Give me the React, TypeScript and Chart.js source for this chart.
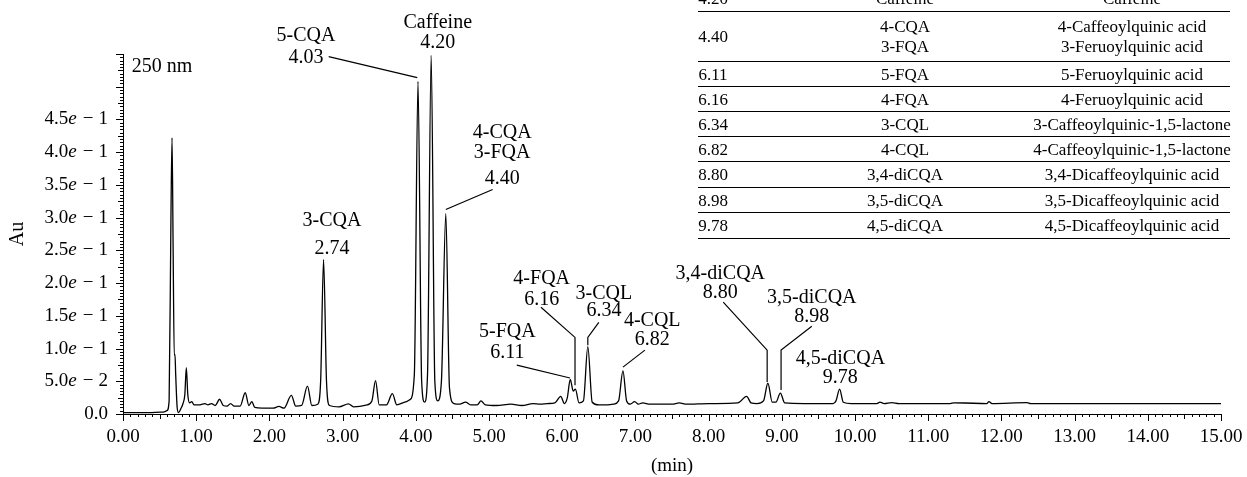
import React, { useEffect, useRef } from "react";
import { Chart, registerables } from "chart.js";

Chart.register(...registerables);

const FONT = '"Liberation Serif", "Times New Roman", serif';

// Chromatogram trace (retention time in min, absorbance in AU at 250 nm)
const times = [
  0.0, 0.3, 0.55, 0.6, 0.63, 0.655, 0.67, 0.685, 0.7, 0.71, 0.72, 0.74, 0.76, 0.79, 0.82, 0.845, 0.865, 0.885,
  0.91, 0.94, 0.97, 1.05, 1.12, 1.16, 1.21, 1.26, 1.32, 1.37, 1.42, 1.47, 1.52, 1.6, 1.67, 1.72, 1.76, 1.8,
  1.9, 2.05, 2.13, 2.2, 2.3, 2.36, 2.44, 2.52, 2.58, 2.66, 2.7, 2.74, 2.78, 2.82, 2.95, 3.08, 3.15, 3.32,
  3.4, 3.45, 3.5, 3.6, 3.68, 3.74, 3.85, 3.92, 3.98, 4.03, 4.08, 4.12, 4.16, 4.21, 4.26, 4.3, 4.35, 4.41,
  4.46, 4.52, 4.6, 4.68, 4.75, 4.84, 4.89, 4.95, 5.1, 5.3, 5.45, 5.6, 5.7, 5.8, 5.9, 5.98, 6.03, 6.07,
  6.11, 6.15, 6.18, 6.23, 6.29, 6.35, 6.41, 6.5, 6.62, 6.7, 6.77, 6.83, 6.88, 6.93, 6.99, 7.04, 7.1, 7.2,
  7.5, 7.6, 7.7, 8.0, 8.1, 8.4, 8.52, 8.58, 8.66, 8.75, 8.81, 8.87, 8.92, 8.98, 9.04, 9.3, 9.7, 9.74,
  9.79, 9.84, 9.95, 10.3, 10.34, 10.4, 10.5, 10.6, 11.3, 11.35, 11.5, 11.8, 11.83, 11.87, 12.35, 12.4, 15.0,
];
const absorbance = [
  0.002, 0.002, 0.003, 0.005, 0.02, 0.3, 0.422, 0.25, 0.09, 0.091, 0.06, 0.01, 0.002, 0.008, 0.016, 0.03, 0.071, 0.03,
  0.017, 0.019, 0.014, 0.014, 0.016, 0.014, 0.016, 0.013, 0.0225, 0.013, 0.012, 0.016, 0.012, 0.012, 0.0325, 0.013, 0.019, 0.01,
  0.009, 0.009, 0.0115, 0.009, 0.0285, 0.012, 0.013, 0.0425, 0.013, 0.015, 0.05, 0.236, 0.05, 0.013, 0.011, 0.0155, 0.011, 0.0135,
  0.02, 0.051, 0.014, 0.014, 0.031, 0.014, 0.018, 0.022, 0.06, 0.508, 0.05, 0.018, 0.06, 0.548, 0.05, 0.02, 0.05, 0.306,
  0.04, 0.016, 0.015, 0.018, 0.014, 0.014, 0.02, 0.014, 0.013, 0.015, 0.013, 0.016, 0.015, 0.016, 0.017, 0.027, 0.016, 0.025,
  0.053, 0.035, 0.038, 0.017, 0.02, 0.103, 0.018, 0.014, 0.014, 0.015, 0.02, 0.066, 0.02, 0.015, 0.019, 0.015, 0.017, 0.015,
  0.015, 0.017, 0.015, 0.016, 0.016, 0.017, 0.027, 0.017, 0.016, 0.02, 0.047, 0.018, 0.018, 0.032, 0.017, 0.016, 0.016, 0.02,
  0.038, 0.018, 0.016, 0.016, 0.018, 0.016, 0.0175, 0.016, 0.016, 0.017, 0.0168, 0.016, 0.019, 0.016, 0.0175, 0.016, 0.016,
];

// Axis tick labels
const xTickValues = [0, 1, 2, 3, 4, 5, 6, 7, 8, 9, 10, 11, 12, 13, 14, 15];
const yTickValues = [0, 0.05, 0.1, 0.15, 0.2, 0.25, 0.3, 0.35, 0.4, 0.45];
const yTickMantissas = ["0.0", "5.0", "1.0", "1.5", "2.0", "2.5", "3.0", "3.5", "4.0", "4.5"];
const yTickExponents = ["", "2", "1", "1", "1", "1", "1", "1", "1", "1"];

// Peak annotations (text)
const peakNames = ["5-CQA", "Caffeine", "4-CQA\n3-FQA", "3-CQA", "5-FQA", "4-FQA", "3-CQL", "4-CQL", "3,4-diCQA", "3,5-diCQA", "4,5-diCQA"];
const peakTimes = ["4.03", "4.20", "4.40", "2.74", "6.11", "6.16", "6.34", "6.82", "8.80", "8.98", "9.78"];

// Annotation placement, in data units (min, AU)
const labelAnchorX = [2.5, 4.3, 5.18, 2.855, 5.25, 5.72, 6.57, 7.23, 8.16, 9.41, 9.8];
const labelLineY = [
  [0.578, 0.544],
  [0.598, 0.567],
  [0.43, 0.399, 0.36],
  [0.296, 0.253],
  [0.125, 0.093],
  [0.207, 0.175],
  [0.184, 0.157],
  [0.143, 0.114],
  [0.215, 0.186],
  [0.177, 0.148],
  [0.085, 0.056],
];
const leaderPaths = [
  [[2.81, 0.546], [4.02, 0.514]],
  [],
  [[5.05, 0.343], [4.41, 0.3125]],
  [],
  [[5.38, 0.0747], [6.107, 0.055]],
  [[5.71, 0.163], [6.175, 0.117], [6.175, 0.044]],
  [[6.5, 0.14], [6.35, 0.117], [6.35, 0.105]],
  [[7.13, 0.0976], [6.83, 0.0716]],
  [[8.2, 0.171], [8.8, 0.0976], [8.8, 0.049]],
  [[9.41, 0.134], [8.99, 0.0976], [8.99, 0.0366]],
  [],
];

// Table of identified compounds
const tableTimes = ["4.20", "4.40", "6.11", "6.16", "6.34", "6.82", "8.80", "8.98", "9.78"];
const tableAbbrevs = ["Caffeine", "4-CQA\n3-FQA", "5-FQA", "4-FQA", "3-CQL", "4-CQL", "3,4-diCQA", "3,5-diCQA", "4,5-diCQA"];
const tableNames = [
  "Caffeine",
  "4-Caffeoylquinic acid\n3-Feruoylquinic acid",
  "5-Feruoylquinic acid",
  "4-Feruoylquinic acid",
  "3-Caffeoylquinic-1,5-lactone",
  "4-Caffeoylquinic-1,5-lactone",
  "3,4-Dicaffeoylquinic acid",
  "3,5-Dicaffeoylquinic acid",
  "4,5-Dicaffeoylquinic acid",
];

const W = 1247;
const H = 477;
const TABLE_ROW_BOTTOMS = [12, 62, 87, 112, 137, 162, 188, 213, 239];
const TABLE_COL_CENTERS = [713, 905, 1132];

const decorPlugin = {
  id: "decor",
  afterDatasetsDraw(chart: any) {
    const { ctx, chartArea, scales } = chart;
    const xs = scales.x;
    const ys = scales.y;
    const left = chartArea.left;
    const bottom = chartArea.bottom;
    ctx.save();
    ctx.strokeStyle = "#000";
    ctx.lineWidth = 1;
    // x ticks (major 1, medium 0.5, minor 0.1)
    ctx.beginPath();
    for (let i = 0; i <= 150; i++) {
      const px = Math.round(xs.getPixelForValue(i / 10)) + 0.5;
      const len = i % 10 === 0 ? 7 : i % 5 === 0 ? 5 : 3;
      ctx.moveTo(px, bottom);
      ctx.lineTo(px, bottom + len);
    }
    // y ticks (major 0.05, medium 0.025, minor 0.005)
    for (let j = 0; j <= 110; j++) {
      const py = Math.round(ys.getPixelForValue(j * 0.005)) + 0.5;
      const len = j % 10 === 0 ? 7 : j % 5 === 0 ? 5 : 3;
      ctx.moveTo(left - len, py);
      ctx.lineTo(left, py);
    }
    ctx.stroke();

    // y tick labels with italic e
    ctx.fillStyle = "#000";
    ctx.textBaseline = "middle";
    const labelRight = left - 15;
    const upright = `19px ${FONT}`;
    const italic = `italic 19px ${FONT}`;
    yTickValues.forEach((v, k) => {
      const py = ys.getPixelForValue(v);
      const mant = yTickMantissas[k];
      const exp = yTickExponents[k];
      if (!exp) {
        ctx.font = upright;
        ctx.textAlign = "right";
        ctx.fillText(mant, labelRight, py);
        return;
      }
      ctx.font = upright;
      const wm = ctx.measureText(mant).width;
      const wMinus = ctx.measureText("\u2212").width;
      const wExp = ctx.measureText(exp).width;
      ctx.font = italic;
      const wE = ctx.measureText("e").width;
      const g1 = 6;
      const g2 = 5;
      const total = wm + wE + g1 + wMinus + g2 + wExp;
      let x = labelRight - total;
      ctx.textAlign = "left";
      ctx.font = upright;
      ctx.fillText(mant, x, py);
      x += wm;
      ctx.font = italic;
      ctx.fillText("e", x, py);
      x += wE + g1;
      ctx.font = upright;
      ctx.fillText("\u2212", x, py);
      x += wMinus + g2;
      ctx.fillText(exp, x, py);
    });

    // wavelength label
    ctx.font = `20px ${FONT}`;
    ctx.textAlign = "left";
    ctx.fillText("250 nm", xs.getPixelForValue(0.12), ys.getPixelForValue(0.53));

    // peak annotations
    ctx.font = `20px ${FONT}`;
    ctx.textAlign = "center";
    peakNames.forEach((name, k) => {
      const lines = name.split("\n").concat([peakTimes[k]]);
      const cx = xs.getPixelForValue(labelAnchorX[k]);
      lines.forEach((ln, li) => {
        ctx.fillText(ln, cx, ys.getPixelForValue(labelLineY[k][li]));
      });
      const path = leaderPaths[k];
      if (path.length > 1) {
        ctx.beginPath();
        path.forEach((p, pi) => {
          const px = xs.getPixelForValue(p[0]);
          const py = ys.getPixelForValue(p[1]);
          if (pi === 0) ctx.moveTo(px, py);
          else ctx.lineTo(px, py);
        });
        ctx.lineWidth = 1.2;
        ctx.stroke();
      }
    });
    ctx.restore();
  },
};

export default function App() {
  const canvasRef = useRef<HTMLCanvasElement | null>(null);

  useEffect(() => {
    document.body.style.margin = "0";
    const canvas = canvasRef.current;
    if (!canvas) return;
    const points = times.map((t, i) => ({ x: t, y: absorbance[i] }));
    const chart = new Chart(canvas, {
      type: "line",
      data: {
        datasets: [
          {
            data: points,
            borderColor: "#000",
            borderWidth: 1.3,
            pointRadius: 0,
            cubicInterpolationMode: "monotone",
            fill: false,
          },
        ],
      },
      options: {
        animation: false,
        responsive: false,
        devicePixelRatio: 1,
        layout: { padding: { left: 0, top: 54, right: 26, bottom: 0 } },
        plugins: { legend: { display: false }, tooltip: { enabled: false } },
        scales: {
          x: {
            type: "linear",
            min: 0,
            max: 15,
            afterFit: (s: any) => {
              s.height = 63;
              s.paddingLeft = 0;
              s.paddingRight = 0;
            },
            afterBuildTicks: (s: any) => {
              s.ticks = xTickValues.map((v) => ({ value: v }));
            },
            ticks: {
              callback: (v: any) => Number(v).toFixed(2),
              font: { family: FONT, size: 19 },
              color: "#000",
              padding: 12,
              maxRotation: 0,
              autoSkip: false,
            },
            grid: { display: false, drawTicks: false },
            border: { display: true, color: "#000", width: 1 },
            title: {
              display: true,
              text: "(min)",
              font: { family: FONT, size: 19 },
              color: "#000",
              padding: { top: 0, bottom: 0 },
            },
          },
          y: {
            type: "linear",
            min: 0,
            max: 0.55,
            afterFit: (s: any) => {
              s.width = 123;
              s.paddingTop = 0;
              s.paddingBottom = 0;
            },
            ticks: { display: false },
            grid: { display: false, drawTicks: false },
            border: { display: true, color: "#000", width: 1 },
            title: {
              display: true,
              text: "Au",
              font: { family: FONT, size: 20 },
              color: "#000",
              padding: { top: 6, bottom: 0 },
            },
          },
        },
      },
      plugins: [decorPlugin],
    });
    return () => chart.destroy();
  }, []);

  const rowTops = [-14].concat(TABLE_ROW_BOTTOMS.slice(0, -1));

  return (
    <div style={{ position: "fixed", left: 0, top: 0, width: W, height: H, background: "#fff", overflow: "hidden" }}>
      <canvas ref={canvasRef} width={W} height={H} style={{ position: "absolute", left: 0, top: 0, width: W, height: H }} />
      {tableTimes.map((t, r) => {
        const top = rowTops[r];
        const bottom = TABLE_ROW_BOTTOMS[r];
        const cells = [t, tableAbbrevs[r], tableNames[r]];
        return (
          <div key={r} style={{ position: "absolute", left: 698, width: 532, top, height: bottom - top, borderBottom: "1.5px solid #000", boxSizing: "border-box" }}>
            {cells.map((c, ci) => (
              <div
                key={ci}
                style={{
                  position: "absolute",
                  left: TABLE_COL_CENTERS[ci] - 698 - 200,
                  width: 400,
                  top: 0,
                  height: bottom - top,
                  display: "flex",
                  flexDirection: "column",
                  justifyContent: "center",
                  alignItems: "center",
                  fontFamily: FONT,
                  fontSize: 17,
                  lineHeight: "20px",
                  color: "#000",
                  whiteSpace: "pre",
                  textAlign: "center",
                }}
              >
                {c.split("\n").map((ln, li) => (
                  <div key={li}>{ln}</div>
                ))}
              </div>
            ))}
          </div>
        );
      })}
    </div>
  );
}
